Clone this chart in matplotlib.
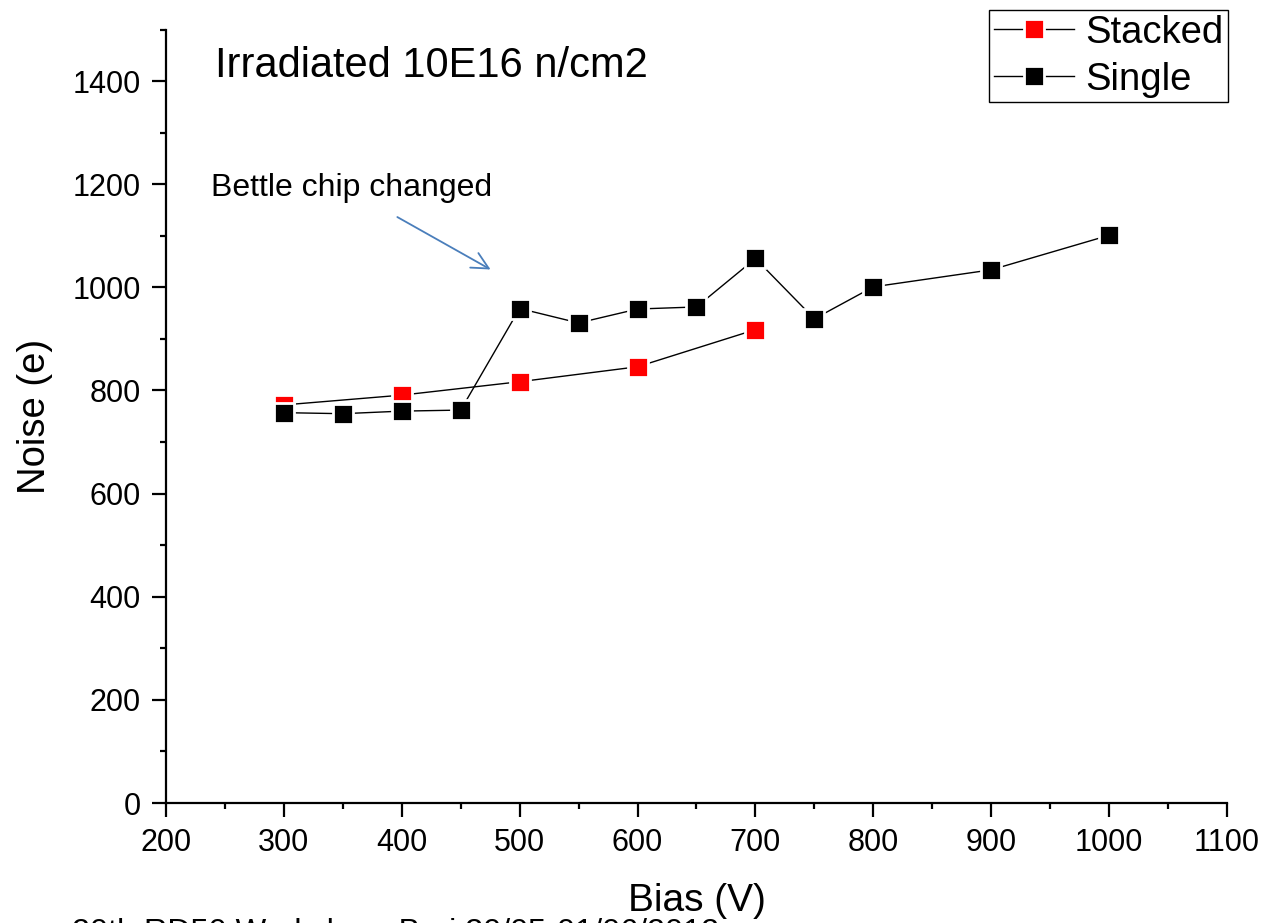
import matplotlib
matplotlib.use("Agg")
import matplotlib.pyplot as plt
from matplotlib.ticker import MultipleLocator

plt.rcParams['font.family'] = ['Liberation Sans', 'DejaVu Sans']

stacked_bias = [300, 400, 500, 600, 700]
stacked_noise = [772, 791, 817, 846, 918]
single_bias = [300, 350, 400, 450, 500, 550, 600, 650, 700, 750, 800, 900, 1000]
single_noise = [757, 755, 760, 762, 959, 931, 958, 962, 1056, 939, 1001, 1034, 1101]

fig = plt.figure(figsize=(12.66, 9.23), dpi=100)
ax = fig.add_axes([0.1311, 0.1300, 0.8381, 0.838])

ax.plot(stacked_bias, stacked_noise, color='black', lw=1.0, marker='s', ms=14.5,
        mfc='#ff0000', mec='white', mew=2.0, label='Stacked', zorder=3)
ax.plot(single_bias, single_noise, color='black', lw=1.0, marker='s', ms=14.5,
        mfc='black', mec='white', mew=2.0, label='Single', zorder=4)

ax.set_xlim(200, 1100)
ax.set_ylim(0, 1500)
ax.xaxis.set_major_locator(MultipleLocator(100))
ax.xaxis.set_minor_locator(MultipleLocator(50))
ax.yaxis.set_major_locator(MultipleLocator(200))
ax.yaxis.set_minor_locator(MultipleLocator(100))
for s in ['top', 'right']:
    ax.spines[s].set_visible(False)
for s in ['left', 'bottom']:
    ax.spines[s].set_linewidth(1.6)
ax.tick_params(which='major', direction='out', length=10, width=1.6, labelsize=22, pad=8)
ax.tick_params(which='minor', direction='out', length=4.5, width=1.6)

ax.set_xlabel('Bias (V)', fontsize=28, labelpad=18)
ax.set_ylabel('Noise (e)', fontsize=27.5, labelpad=14)

ax.text(241.6, 1430, 'Irradiated 10E16 n/cm2', fontsize=30, va='center', ha='left')
ax.text(238, 1193, 'Bettle chip changed', fontsize=23, va='center', ha='left')
ax.annotate('', xy=(477.4, 1032), xytext=(394.2, 1139),
            arrowprops=dict(arrowstyle='->', color='#4a7ebb', lw=1.3,
                            mutation_scale=30))

leg = ax.legend(loc='upper right', bbox_to_anchor=(1.001, 1.025), fontsize=27.5,
                frameon=True, fancybox=False, edgecolor='black', framealpha=1,
                handlelength=2.1, handletextpad=0.3, borderpad=0.12,
                labelspacing=0.29, borderaxespad=0.0)
leg.get_frame().set_linewidth(1.0)

fig.text(0.057, 0.005, '20th RD50 Workshop, Bari 30/05-01/06/2012', fontsize=23.3,
         ha='left', va='top')

fig.savefig('out.png', dpi=100)
